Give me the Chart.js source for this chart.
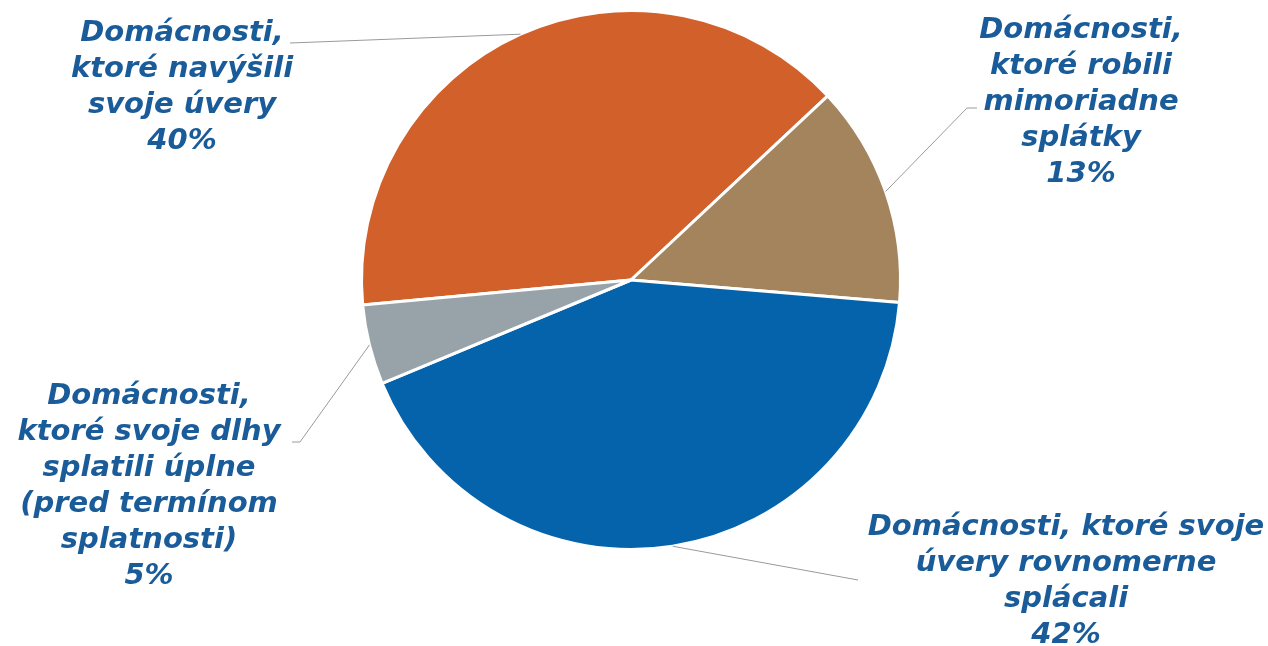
<!DOCTYPE html>
<html>
<head>
<meta charset="utf-8">
<script src="https://cdn.jsdelivr.net/npm/chart.js@4/dist/chart.umd.min.js"></script>
<style>
  html, body { margin: 0; padding: 0; background: #ffffff; }
  #wrap { width: 1268px; height: 646px; position: relative; }
</style>
</head>
<body>
<div id="wrap"><canvas id="c" width="1268" height="646"></canvas></div>
<script>
// ---- data ----
const categories = [
  ['Domácnosti,', 'ktoré navýšili', 'svoje úvery'],
  ['Domácnosti,', 'ktoré robili', 'mimoriadne', 'splátky'],
  ['Domácnosti, ktoré svoje', 'úvery rovnomerne', 'splácali'],
  ['Domácnosti,', 'ktoré svoje dlhy', 'splatili úplne', '(pred termínom', 'splatnosti)']
];
const shares = [39.5, 13.3, 42.4, 4.8];

// ---- styles / layout ----
const sliceColors = ['#D2602A', '#A3845D', '#0563AC', '#97A3A9'];
const labelColor = '#1A5C99';
const labelLayout = [
  { cx: 182,  top: 33,  end: [290, 43] },
  { cx: 1081, top: 30,  end: [977, 108], elbow: [967, 108] },
  { cx: 1066, top: 527, end: [858, 580] },
  { cx: 149,  top: 396, end: [292, 442], elbow: [300, 442] }
];
const lineHeight = 36;

const labelPlugin = {
  id: 'outerLabels',
  afterDraw(chart) {
    const ctx = chart.ctx;
    const meta = chart.getDatasetMeta(0);
    meta.data.forEach((arc, i) => {
      const mid = (arc.startAngle + arc.endAngle) / 2;
      const sx = arc.x + Math.cos(mid) * arc.outerRadius;
      const sy = arc.y + Math.sin(mid) * arc.outerRadius;
      const L = labelLayout[i];
      ctx.save();
      ctx.strokeStyle = '#9A9A9A';
      ctx.lineWidth = 1;
      ctx.beginPath();
      ctx.moveTo(sx, sy);
      if (L.elbow) ctx.lineTo(L.elbow[0], L.elbow[1]);
      ctx.lineTo(L.end[0], L.end[1]);
      ctx.stroke();
      ctx.fillStyle = labelColor;
      ctx.font = 'italic bold 29px "DejaVu Sans", Verdana, sans-serif';
      ctx.textAlign = 'center';
      ctx.textBaseline = 'middle';
      const lines = categories[i].concat([Math.round(shares[i]) + '%']);
      lines.forEach((t, k) => ctx.fillText(t, L.cx, L.top + k * lineHeight));
      ctx.restore();
    });
  }
};

new Chart(document.getElementById('c'), {
  type: 'pie',
  data: {
    labels: categories.map(c => c.join(' ')),
    datasets: [{
      data: shares,
      backgroundColor: sliceColors,
      borderColor: '#ffffff',
      borderWidth: 3
    }]
  },
  options: {
    responsive: false,
    animation: false,
    rotation: 264.7,
    layout: { padding: { top: 8, bottom: 94, left: 360, right: 366 } },
    plugins: { legend: { display: false }, tooltip: { enabled: false } }
  },
  plugins: [labelPlugin]
});
</script>
</body>
</html>
